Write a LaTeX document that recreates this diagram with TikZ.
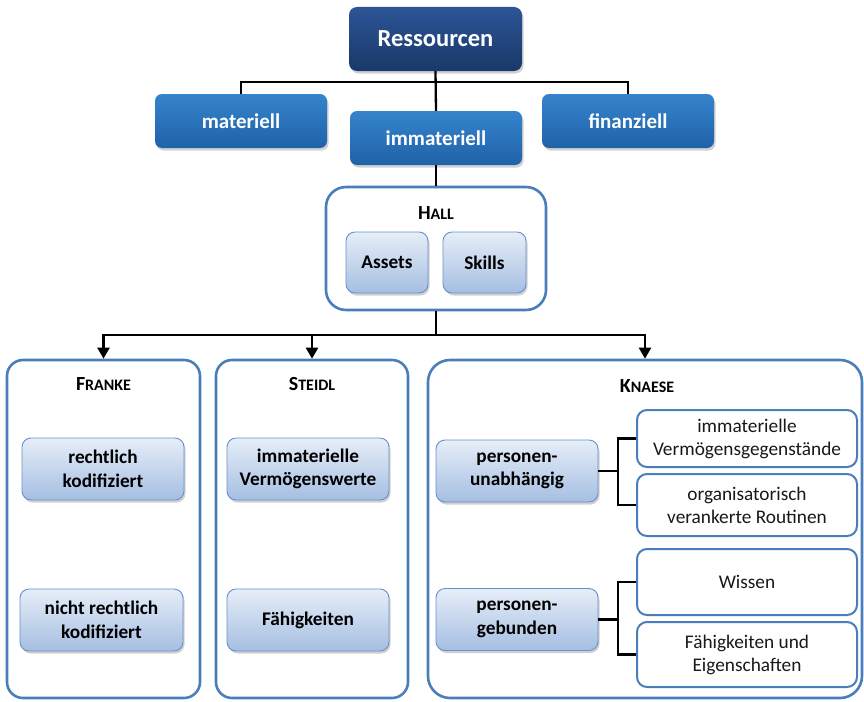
\documentclass[tikz,border=0pt]{standalone}
\usepackage{fontspec}
\setmainfont{Carlito}
\usetikzlibrary{arrows.meta,shadows}
\definecolor{navyT}{HTML}{2C5596}
\definecolor{navyB}{HTML}{1A3869}
\definecolor{blueT}{HTML}{3584CC}
\definecolor{blueB}{HTML}{1F62A8}
\definecolor{lightT}{HTML}{E6EEF8}
\definecolor{lightB}{HTML}{A5BEE2}
\definecolor{edge}{HTML}{4A7EBB}
\definecolor{lightedge}{HTML}{6692CB}
\newcommand{\smc}[2]{\textbf{#1{\fontsize{16}{19}\selectfont #2}}}
\begin{document}
\begin{tikzpicture}[x=1pt,y=-1pt,
  shad/.style={drop shadow={shadow xshift=1.5pt,shadow yshift=-2.5pt,opacity=0.3,fill=black!60}},
  topbox/.style={rectangle,rounded corners=8pt,top color=navyT,bottom color=navyB,draw=none,
    text=white,font=\fontsize{24.5}{28}\selectfont\bfseries,minimum width=173pt,minimum height=64pt,shad},
  bluebox/.style={rectangle,rounded corners=7pt,top color=blueT,bottom color=blueB,draw=none,
    text=white,font=\fontsize{21}{25}\selectfont\bfseries,minimum width=172pt,minimum height=54pt,shad},
  frame/.style={rectangle,draw=edge,line width=2.6pt,fill=white,rounded corners=16pt,inner sep=0pt},
  lightbox/.style={rectangle,draw=lightedge,line width=0.9pt,rounded corners=9pt,top color=lightT,bottom color=lightB,
    font=\fontsize{19.3}{23.5}\selectfont\bfseries,align=center,minimum width=162pt,minimum height=62pt,inner sep=0pt,shad},
  whitebox/.style={rectangle,draw=edge,line width=2pt,fill=white,rounded corners=10pt,
    font=\fontsize{19.3}{23}\selectfont,text=black!90,align=center,minimum width=220pt,inner sep=0pt},
  title/.style={inner sep=0pt,font=\fontsize{20}{24}\selectfont},
  conn/.style={draw=black,line width=2.3pt},
  arr/.style={conn,-{Triangle[width=12pt,length=11pt]}}
]
\useasboundingbox (0,0) rectangle (864,701);
% top level
\node[topbox] (res) at (435.5,39) {Ressourcen};
\node[bluebox] (mat) at (241,121) {materiell};
\node[bluebox] (imm) at (436,138) {immateriell};
\node[bluebox] (fin) at (628,121) {finanziell};
\coordinate (j1) at (436,82);
% Hall
\node[frame,rounded corners=20pt,minimum width=220pt,minimum height=123pt] (hall) at (436,248.5) {};
\node[title] (hallt) at (436,213) {\smc{H}{ALL}};
\node[lightbox,minimum width=82pt,minimum height=61pt] (assets) at (387,262.5) {Assets};
\node[lightbox,minimum width=83pt,minimum height=61pt] (skills) at (484.5,262.5) {Skills};
% connectors top
\draw[conn] (res.south) -- (imm.north);
\draw[conn] (mat.north) |- (j1) -| (fin.north);
\draw[conn] (imm.south) -- (hall.north);
% lower frames
\node[frame,minimum width=193pt,minimum height=338pt] (franke) at (103.5,529) {};
\node[frame,minimum width=192pt,minimum height=338pt] (steidl) at (312,529) {};
\node[frame,rounded corners=22pt,minimum width=434pt,minimum height=338pt] (knaese) at (645,529) {};
\coordinate (j2) at (436,335);
\draw[conn] (hall.south) -- (j2);
\draw[arr] (j2) -| (franke.north);
\draw[arr] (j2) -| (steidl.north);
\draw[arr] (j2) -| (knaese.north);
\node[title] (frt) at (103.5,384) {\smc{F}{RANKE}};
\node[title] (stt) at (312,384) {\smc{S}{TEIDL}};
\node[title] (knt) at (647,386) {\smc{K}{NAESE}};
% Franke
\node[lightbox] (rk) at (103,469) {rechtlich\\kodifiziert};
\node[lightbox,minimum width=163pt] (nrk) at (101.5,620) {nicht rechtlich\\kodifiziert};
% Steidl
\node[lightbox] (ivw) at (308,469) {immaterielle\\Vermögenswerte};
\node[lightbox] (fae) at (308,620) {Fähigkeiten};
% Knaese
\node[lightbox] (pu) at (517,471) {personen-\\unabhängig};
\node[lightbox] (pg) at (517,619.5) {personen-\\gebunden};
\node[whitebox,minimum height=57pt] (ivg) at (747,438.5) {immaterielle\\Vermögensgegenstände};
\node[whitebox,minimum height=62pt] (orr) at (747,505) {organisatorisch\\verankerte Routinen};
\node[whitebox,minimum height=66pt] (wis) at (747,582) {Wissen};
\node[whitebox,minimum height=65pt] (fue) at (747,654.5) {Fähigkeiten und\\Eigenschaften};
\coordinate (k1) at (618,471);
\coordinate (k2) at (618,619.5);
\draw[conn] (pu.east) -- (k1);
\draw[conn] (ivg.west) -| (k1);
\draw[conn] (orr.west) -| (k1);
\draw[conn] (pg.east) -- (k2);
\draw[conn] (wis.west) -| (k2);
\draw[conn] (fue.west) -| (k2);
\end{tikzpicture}
\end{document}
